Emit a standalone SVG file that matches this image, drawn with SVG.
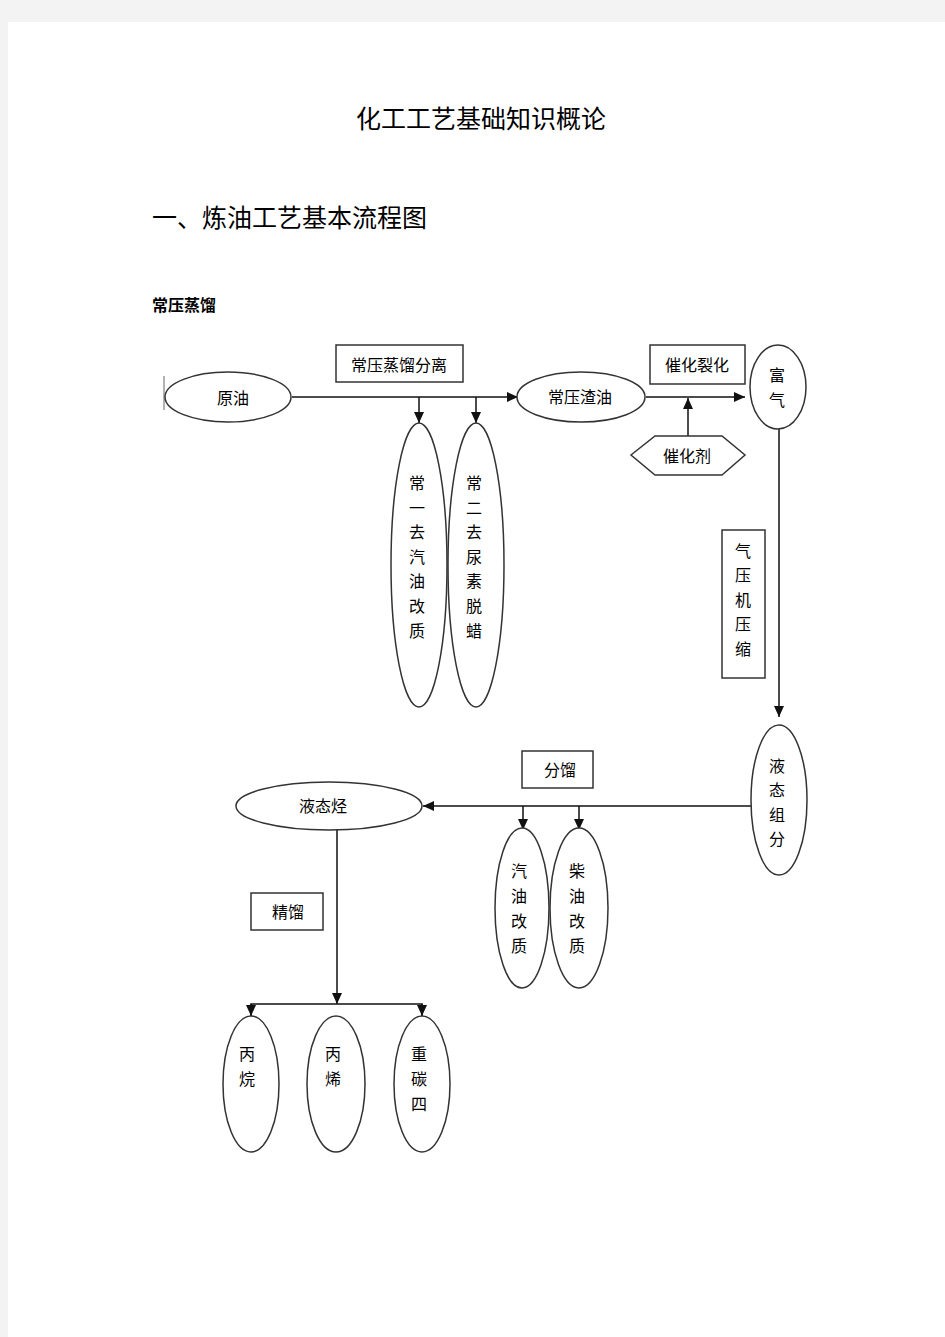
<svg xmlns="http://www.w3.org/2000/svg" width="945" height="1337" viewBox="0 0 945 1337">
<style>
.t{font-family:"Noto Sans CJK SC","Noto Sans CJK JP",sans-serif;font-size:16px;fill:#000;text-anchor:middle;dominant-baseline:central}
.h{font-family:"Noto Sans CJK SC",sans-serif;fill:#000}
.n{fill:#fff;stroke:#333;stroke-width:1.5}
.c{fill:none;stroke:#111;stroke-width:1.5}
</style>
<defs>
<marker id="a" markerUnits="userSpaceOnUse" markerWidth="12" markerHeight="10" refX="11" refY="5" orient="auto">
<path d="M0,0 L11,5 L0,10 Z" fill="#111"/>
</marker>
</defs>
<rect x="0" y="0" width="945" height="1337" fill="#f3f3f3"/>
<rect x="8" y="22" width="937" height="1315" fill="#fff"/>
<text class="h" x="481" y="128" font-size="25" text-anchor="middle">化工工艺基础知识概论</text>
<text class="h" x="152" y="227" font-size="25">一、炼油工艺基本流程图</text>
<text class="h" x="152" y="311" font-size="16" font-weight="bold">常压蒸馏</text>

<g id="connectors">
<line class="c" x1="292" y1="397" x2="518" y2="397" marker-end="url(#a)"/>
<line class="c" x1="419" y1="397" x2="419" y2="423" marker-end="url(#a)"/>
<line class="c" x1="476" y1="397" x2="476" y2="423" marker-end="url(#a)"/>
<line class="c" x1="646" y1="397" x2="745" y2="397" marker-end="url(#a)"/>
<line class="c" x1="688" y1="436" x2="688" y2="398" marker-end="url(#a)"/>
<line class="c" x1="779" y1="429" x2="779" y2="717" marker-end="url(#a)"/>
<line class="c" x1="751" y1="806" x2="423" y2="806" marker-end="url(#a)"/>
<line class="c" x1="523" y1="806" x2="523" y2="830" marker-end="url(#a)"/>
<line class="c" x1="579" y1="806" x2="579" y2="830" marker-end="url(#a)"/>
<line class="c" x1="337" y1="830" x2="337" y2="1004" marker-end="url(#a)"/>
<polyline class="c" points="251,1016 251,1004 422,1004 422,1016"/>
<line class="c" x1="251" y1="1004" x2="251" y2="1016" marker-end="url(#a)"/>
<line class="c" x1="422" y1="1004" x2="422" y2="1016" marker-end="url(#a)"/>
</g>

<g id="n-yuanyou">
<line x1="164" y1="376" x2="164" y2="410" stroke="#666" stroke-width="1"/>
<ellipse class="n" cx="228" cy="397" rx="63" ry="25"/>
<text class="t" x="233" y="397">原油</text>
</g>
<g id="n-fenli">
<rect class="n" x="336" y="345" width="127" height="37"/>
<text class="t" x="399" y="364">常压蒸馏分离</text>
</g>
<g id="n-changyi">
<ellipse class="n" cx="419" cy="565" rx="28" ry="142"/>
<text class="t" x="417" y="482">常</text><text class="t" x="417" y="507">一</text><text class="t" x="417" y="531">去</text><text class="t" x="417" y="556">汽</text><text class="t" x="417" y="580">油</text><text class="t" x="417" y="605">改</text><text class="t" x="417" y="630">质</text>
</g>
<g id="n-chang2">
<ellipse class="n" cx="476" cy="565" rx="28" ry="142"/>
<text class="t" x="474" y="482">常</text><text class="t" x="474" y="507">二</text><text class="t" x="474" y="531">去</text><text class="t" x="474" y="556">尿</text><text class="t" x="474" y="580">素</text><text class="t" x="474" y="605">脱</text><text class="t" x="474" y="630">蜡</text>
</g>
<g id="n-zhayou">
<ellipse class="n" cx="581" cy="397" rx="64" ry="25"/>
<text class="t" x="580" y="396">常压渣油</text>
</g>
<g id="n-liehua">
<rect class="n" x="650" y="345" width="95" height="39"/>
<text class="t" x="697" y="364">催化裂化</text>
</g>
<g id="n-cuihuaji">
<polygon class="n" points="631,455 655,436 722,436 745,455 722,475 655,475"/>
<text class="t" x="687" y="455">催化剂</text>
</g>
<g id="n-fuqi">
<ellipse class="n" cx="778" cy="387" rx="28" ry="42"/>
<text class="t" x="777" y="374">富</text><text class="t" x="777" y="399">气</text>
</g>
<g id="n-yasuo">
<rect class="n" x="722" y="530" width="43" height="148"/>
<text class="t" x="743" y="550">气</text><text class="t" x="743" y="574">压</text><text class="t" x="743" y="599">机</text><text class="t" x="743" y="623">压</text><text class="t" x="743" y="648">缩</text>
</g>
<g id="n-yetaizufen">
<ellipse class="n" cx="779" cy="800" rx="28" ry="75"/>
<text class="t" x="777" y="765">液</text><text class="t" x="777" y="789">态</text><text class="t" x="777" y="814">组</text><text class="t" x="777" y="838">分</text>
</g>
<g id="n-fenliu">
<rect class="n" x="522" y="751" width="71" height="37"/>
<text class="t" x="560" y="769">分馏</text>
</g>
<g id="n-yetaiting">
<ellipse class="n" cx="329" cy="806" rx="93" ry="24"/>
<text class="t" x="323" y="805">液态烃</text>
</g>
<g id="n-qiyou">
<ellipse class="n" cx="522" cy="908" rx="27" ry="80"/>
<text class="t" x="519" y="870">汽</text><text class="t" x="519" y="895">油</text><text class="t" x="519" y="920">改</text><text class="t" x="519" y="945">质</text>
</g>
<g id="n-chaiyou">
<ellipse class="n" cx="579" cy="908" rx="29" ry="80"/>
<text class="t" x="577" y="870">柴</text><text class="t" x="577" y="895">油</text><text class="t" x="577" y="920">改</text><text class="t" x="577" y="945">质</text>
</g>
<g id="n-jingliu">
<rect class="n" x="251" y="893" width="72" height="37"/>
<text class="t" x="288" y="911">精馏</text>
</g>
<g id="n-bingwan">
<ellipse class="n" cx="251" cy="1084" rx="28" ry="68"/>
<text class="t" x="247" y="1053">丙</text><text class="t" x="247" y="1078">烷</text>
</g>
<g id="n-bingxi">
<ellipse class="n" cx="336" cy="1084" rx="29" ry="68"/>
<text class="t" x="333" y="1053">丙</text><text class="t" x="333" y="1078">烯</text>
</g>
<g id="n-zhongtansi">
<ellipse class="n" cx="422" cy="1084" rx="28" ry="68"/>
<text class="t" x="419" y="1053">重</text><text class="t" x="419" y="1078">碳</text><text class="t" x="419" y="1103">四</text>
</g>
</svg>
